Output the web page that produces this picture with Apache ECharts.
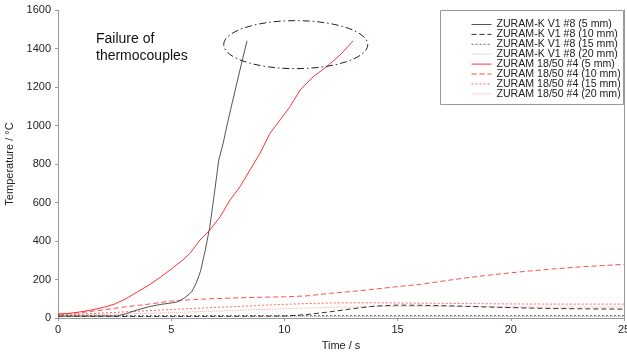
<!DOCTYPE html>
<html><head><meta charset="utf-8">
<script src="https://cdn.jsdelivr.net/npm/echarts@6/dist/echarts.min.js"></script>
<style>html,body{margin:0;padding:0;background:#fff}#c{width:627px;height:358px}</style>
</head><body><div id="c"></div>
<script>
// ---- data ----
const seriesNames = [
  'ZURAM-K V1 #8 (5 mm)', 'ZURAM-K V1 #8 (10 mm)', 'ZURAM-K V1 #8 (15 mm)', 'ZURAM-K V1 #8 (20 mm)',
  'ZURAM 18/50 #4 (5 mm)', 'ZURAM 18/50 #4 (10 mm)', 'ZURAM 18/50 #4 (15 mm)', 'ZURAM 18/50 #4 (20 mm)'
];
const xTicks = [0, 5, 10, 15, 20, 25];
const yTicks = [0, 200, 400, 600, 800, 1000, 1200, 1400, 1600];

const k5 = [[0,10],[1,10],[2,10],[2.6,10],[3,22],[3.5,42],[4,58],[4.5,70],[5,78],[5.3,85],[5.6,105],[5.9,135],[6.1,180],[6.3,245],[6.5,350],[6.7,470],[6.9,640],[7.1,820],[7.3,910],[7.5,1020],[7.7,1120],[7.9,1220],[8.1,1320],[8.35,1440]];
const k10 = [[0,8],[5,8],[10,10],[11,18],[12,32],[13,48],[14,62],[15,67],[16,66],[17,64],[18,61],[19,57],[20,54],[21,51],[22,49],[23,48],[25,46]];
const k15 = [[0,12],[5,12],[10,12],[15,12],[20,12],[25,12]];
const k20 = [[0,8],[5,8],[10,8],[15,8],[20,8],[25,8]];
const r5 = [[0,20],[0.5,24],[1,32],[1.5,42],[2,55],[2.5,72],[3,100],[3.5,135],[4,170],[4.5,210],[5,254],[5.5,300],[5.83,336],[6.27,405],[6.71,457],[7.16,526],[7.6,613],[8.04,682],[8.48,769],[8.92,855],[9.36,959],[9.81,1029],[10.25,1098],[10.69,1184],[11.28,1254],[11.87,1306],[12.46,1366],[13.04,1440]];
const r10 = [[0,20],[1,28],[2,42],[3,58],[4,72],[5,88],[6,96],[7,101],[8,105],[9,108],[10,110],[11,115],[12,128],[13,138],[14,150],[15,163],[16,175],[17,192],[18,208],[19,222],[20,235],[21,246],[22,256],[23,265],[24,272],[25,279]];
const r15 = [[0,18],[1,20],[2,26],[3,32],[4,38],[5,44],[6,50],[7,55],[8,60],[9,66],[10,71],[11,75],[12,78],[13,79],[14,79],[15,78],[16,77],[17,76],[18,75],[19,74],[20,73],[22,72],[25,72]];
const r20 = [[0,15],[2,18],[4,24],[6,32],[8,40],[10,48],[12,55],[14,60],[16,60],[18,59],[20,58],[22,57],[25,57]];
const allData = [k5, k10, k15, k20, r5, r10, r15, r20];

const colors = ['#555555', '#333333', '#666666', '#bbbbbb', '#ff3333', '#ff4d4d', '#ff6666', '#ffaaaa'];
const dashes = ['solid', [5,3], [2,2], [1,1], 'solid', [5,3], [2,2], [1,1]];

const chart = echarts.init(document.getElementById('c'), null, {renderer: 'canvas'});
const font = "'Liberation Sans', Arial, sans-serif";

chart.setOption({
  animation: false,
  backgroundColor: '#fff',
  textStyle: {fontFamily: font},
  grid: {left: 58, right: 3, top: 10, bottom: 40, containLabel: false, outerBoundsMode: 'none'},
  xAxis: {
    type: 'value', min: 0, max: 25, interval: 5,
    name: 'Time / s', nameLocation: 'middle', nameGap: 22,
    nameTextStyle: {fontSize: 11, color: '#222', fontFamily: font},
    axisLine: {show: true, lineStyle: {color: '#999', width: 1}},
    axisTick: {show: true, length: 3, lineStyle: {color: '#999'}},
    axisLabel: {fontSize: 11, color: '#222', margin: 6, fontFamily: font},
    splitLine: {show: false}
  },
  yAxis: [{
    type: 'value', min: 0, max: 1600, interval: 200,
    name: 'Temperature / °C', nameLocation: 'middle', nameGap: 40, nameRotate: 90,
    nameTextStyle: {fontSize: 11, color: '#222', fontFamily: font},
    axisLine: {show: true, lineStyle: {color: '#999', width: 1}},
    axisTick: {show: true, length: 3, lineStyle: {color: '#999'}},
    axisLabel: {fontSize: 11, color: '#222', margin: 7, fontFamily: font, formatter: v => String(v)},
    splitLine: {show: false}
  }, {
    type: 'value', min: 0, max: 1600, interval: 200, position: 'right',
    axisLine: {show: true, lineStyle: {color: '#999', width: 1}},
    axisTick: {show: false}, axisLabel: {show: false}, splitLine: {show: false}
  }],
  legend: {
    show: true, orient: 'vertical', left: 466, top: 14,
    itemWidth: 20, itemHeight: 8, itemGap: -1.1,
    itemStyle: {opacity: 0},
    lineStyle: {width: 1},
    textStyle: {fontSize: 10.6, color: '#222', lineHeight: 9.9, fontFamily: font},
    data: seriesNames
  },
  series: allData.map((d, i) => ({
    name: seriesNames[i], type: 'line', data: d, symbol: 'none', showSymbol: false,
    smooth: false, z: 10 - (i % 4),
    lineStyle: {color: colors[i], width: 1, type: dashes[i]},
    itemStyle: {color: colors[i]}
  }))
});

function draw() {
  const c = chart.convertToPixel({gridIndex: 0}, [10.5, 1420]);
  const tl = chart.convertToPixel({gridIndex: 0}, [0, 1600]);
  const br = chart.convertToPixel({gridIndex: 0}, [25, 0]);
  chart.setOption({
    graphic: [
      {type: 'ellipse', shape: {cx: c[0], cy: c[1], rx: 72, ry: 24},
       style: {fill: 'none', stroke: '#222', lineWidth: 1, lineDash: [7, 3, 1.5, 3]}, z: 20},
      {type: 'text', left: 96, top: 31,
       style: {text: 'Failure of\nthermocouples', font: '14px ' + font, fill: '#111', lineHeight: 17}, z: 20},
      {type: 'rect', shape: {x: 440.5, y: tl[1] + 0.5, width: br[0] - 440 - 1, height: 94},
       style: {fill: 'none', stroke: '#999', lineWidth: 1}, z: 1}
    ]
  });
}
draw();
</script>
</body></html>
